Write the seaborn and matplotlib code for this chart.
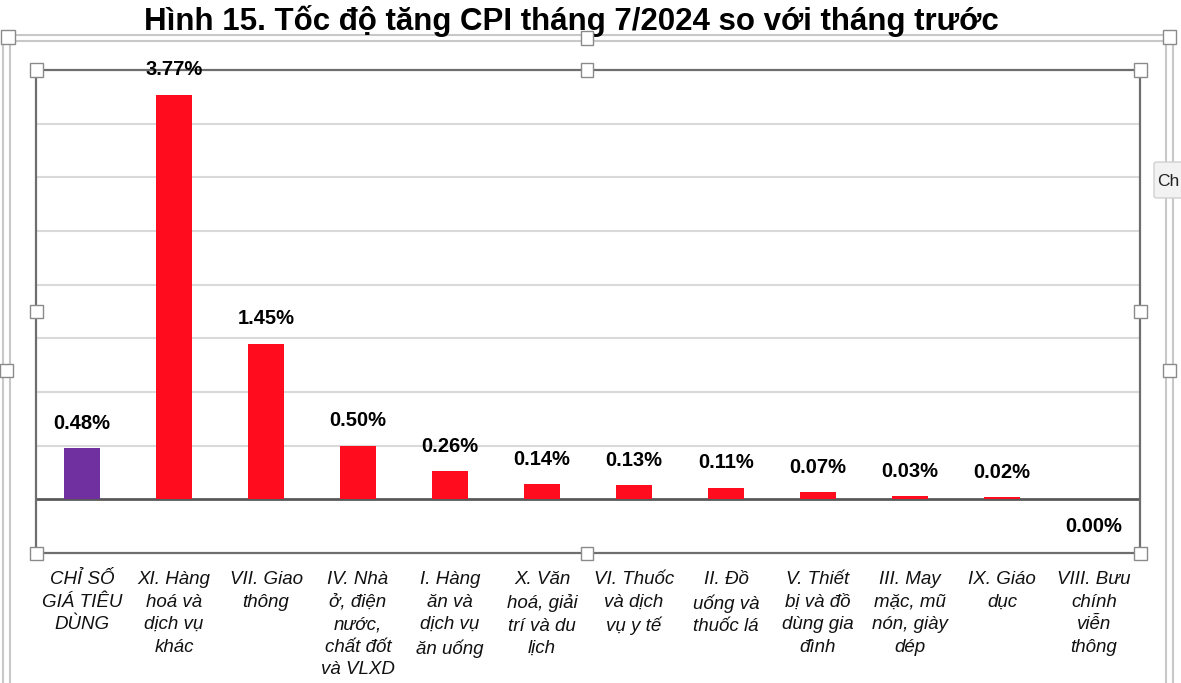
import numpy as np
import pandas as pd
import matplotlib
matplotlib.use("Agg")
import matplotlib.pyplot as plt
from matplotlib.patches import Rectangle, FancyBboxPatch
from matplotlib.lines import Line2D
import seaborn as sns

# Data
categories = [
    "CHỈ SỐ\nGIÁ TIÊU\nDÙNG",
    "XI. Hàng\nhoá và\ndịch vụ\nkhác",
    "VII. Giao\nthông",
    "IV. Nhà\nở, điện\nnước,\nchất đốt\nvà VLXD",
    "I. Hàng\năn và\ndịch vụ\năn uống",
    "X. Văn\nhoá, giải\ntrí và du\nlịch",
    "VI. Thuốc\nvà dịch\nvụ y tế",
    "II. Đồ\nuống và\nthuốc lá",
    "V. Thiết\nbị và đồ\ndùng gia\nđình",
    "III. May\nmặc, mũ\nnón, giày\ndép",
    "IX. Giáo\ndục",
    "VIII. Bưu\nchính\nviễn\nthông",
]
values = [0.48, 3.77, 1.45, 0.50, 0.26, 0.14, 0.13, 0.11, 0.07, 0.03, 0.02, 0.00]
bar_colors = ["#7030A0"] + ["#FF0D1F"] * 11

df = pd.DataFrame({"cat": categories, "val": values})

sns.set_style("white")
plt.rcParams["font.family"] = ["Liberation Sans", "DejaVu Sans"]
plt.rcParams["text.color"] = "black"

W, H = 1181, 683
fig = plt.figure(figsize=(W / 100, H / 100), dpi=100)


def fx(x):
    return x / W


def fy(y):
    return 1 - y / H


ax = fig.add_axes([fx(36), fy(553), fx(1140) - fx(36), fy(70) - fy(553)])

sns.barplot(data=df, x="cat", y="val", hue="cat", palette=bar_colors,
            legend=False, width=0.39, saturation=1, ax=ax, zorder=3,
            linewidth=0, edgecolor="none")

ax.set_ylim(-0.5, 4.0)
ax.set_xlim(-0.5, len(categories) - 0.5)
ax.set_yticks(np.arange(0.5, 4.0, 0.5))
ax.yaxis.grid(True, color="#D9D9D9", linewidth=1.5)
ax.set_axisbelow(True)
ax.set_yticklabels([])
ax.tick_params(axis="both", length=0)
ax.axhline(0, color="#595959", linewidth=2, zorder=2)
ax.set_xlabel("")
ax.set_ylabel("")
ax.set_xticks(range(len(categories)))
ax.set_xticklabels(categories, fontsize=13.5, style="italic", color="#111111",
                   linespacing=1.43, va="top")
ax.tick_params(axis="x", pad=13)

for s in ax.spines.values():
    s.set_color("#6E6E6E")
    s.set_linewidth(1.6)

# value labels
for i, v in enumerate(values):
    lab = f"{v:.2f}%"
    if v > 0:
        ax.annotate(lab, (i, v), xytext=(0, 11), textcoords="offset points",
                    ha="center", va="bottom", fontsize=14.5, fontweight="bold",
                    color="black")
    else:
        ax.annotate(lab, (i, v), xytext=(0, -13), textcoords="offset points",
                    ha="center", va="top", fontsize=14.5, fontweight="bold",
                    color="black")

# title
fig.text(fx(571), fy(21), "Hình 15. Tốc độ tăng CPI tháng 7/2024 so với tháng trước",
         ha="center", va="center", fontsize=22.5, fontweight="bold", color="black")

# outer chart frame (double line, selection look)
frame_col = "#C8C8C8"
for x in (3, 10, 1166, 1173):
    fig.add_artist(Line2D([fx(x), fx(x)], [fy(36), 0], color=frame_col, lw=1.5))
for y in (35, 41):
    fig.add_artist(Line2D([fx(3), fx(1173)], [fy(y), fy(y)], color=frame_col, lw=1.5))


def handle(x, y, s=13):
    fig.add_artist(Rectangle((fx(x - s / 2), fy(y + s / 2)), s / W, s / H,
                             facecolor="white", edgecolor="#8A8A8A", lw=1, zorder=10))


for hx, hy in [(8, 37), (587, 38), (1169, 37), (6, 370), (1169, 370)]:
    handle(hx, hy)
for hx, hy in [(36, 70), (587, 70), (1140, 70), (36, 311), (1140, 311),
               (36, 553), (587, 553), (1140, 553)]:
    handle(hx, hy)

# partial chart-elements button at right edge
fig.add_artist(FancyBboxPatch((fx(1154), fy(198)), fx(40), fy(162) - fy(198),
                              boxstyle="round,pad=0,rounding_size=0.003",
                              facecolor="#F2F2F2", edgecolor="#D0D0D0", lw=1, zorder=11))
fig.text(fx(1157), fy(181), "Ch", ha="left", va="center", fontsize=12.5,
         color="#222222", zorder=12)

fig.savefig("out.png", dpi=100)
